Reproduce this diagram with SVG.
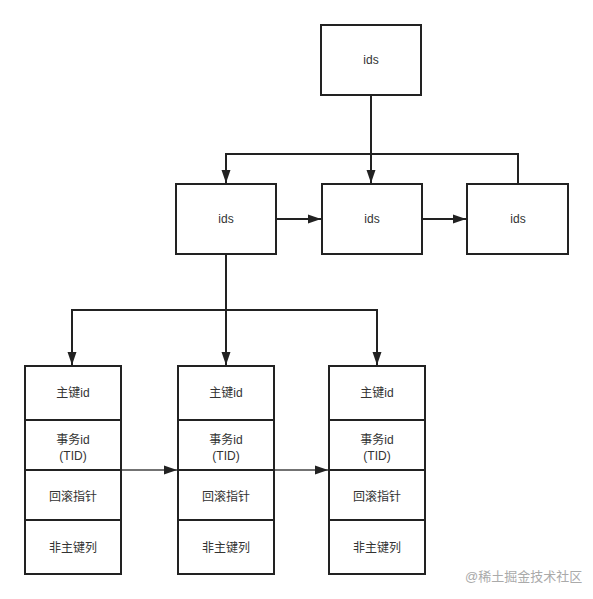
<svg xmlns="http://www.w3.org/2000/svg" width="593" height="599" viewBox="0 0 593 599">
<style>
.box{fill:#fff;stroke:#222;stroke-width:2}
.t{font-family:"Liberation Sans","Noto Sans CJK SC",sans-serif;font-size:12px;fill:#333;text-anchor:middle}
.c{fill:none;stroke:#222;stroke-width:2}
.c2{fill:none;stroke:#444;stroke-width:1.3}
.wm{font-family:"Liberation Sans","Noto Sans CJK SC",sans-serif;font-size:13px;fill:#aaa}
</style>
<defs>
<marker id="a" markerWidth="10" markerHeight="10" refX="9" refY="5" orient="auto" markerUnits="userSpaceOnUse">
<path d="M0,0.5 L10,5 L0,9.5 Z" fill="#222"/>
</marker>
<marker id="b" markerWidth="14" markerHeight="10" refX="13" refY="5" orient="auto" markerUnits="userSpaceOnUse">
<path d="M0,0.5 L13,5 L0,9.5 Z" fill="#222"/>
</marker>
</defs>
<rect width="593" height="599" fill="#fff"/>
<g id="connectors">
<path class="c" d="M371,95 V183" marker-end="url(#b)"/>
<path class="c" d="M518,184 V154 H226 V183" marker-end="url(#b)"/>
<path class="c" d="M276,219 H321" marker-end="url(#b)"/>
<path class="c" d="M422,219 H466" marker-end="url(#b)"/>
<path class="c" d="M226,254 V365" marker-end="url(#b)"/>
<path class="c" d="M226,310 H72 V365" marker-end="url(#b)"/>
<path class="c" d="M226,310 H377 V365" marker-end="url(#b)"/>
<path class="c2" d="M121,470 H177" marker-end="url(#b)"/>
<path class="c2" d="M274,470 H328" marker-end="url(#b)"/>
</g>
<g id="top">
<rect class="box" x="321" y="25" width="100" height="70"/>
<text class="t" x="371" y="64">ids</text>
</g>
<g id="ids1">
<rect class="box" x="176" y="184" width="100" height="70"/>
<text class="t" x="226" y="223">ids</text>
</g>
<g id="ids2">
<rect class="box" x="322" y="184" width="100" height="70"/>
<text class="t" x="372" y="223">ids</text>
</g>
<g id="ids3">
<rect class="box" x="467" y="184" width="101" height="70"/>
<text class="t" x="518" y="223">ids</text>
</g>
<g id="row1">
<rect class="box" x="25" y="366" width="96" height="208"/>
<line class="c" x1="25" y1="420" x2="121" y2="420"/>
<line class="c" x1="25" y1="470" x2="121" y2="470"/>
<line class="c" x1="25" y1="520" x2="121" y2="520"/>
<text class="t" x="73" y="397">主键id</text>
<text class="t" x="73" y="444">事务id</text>
<text class="t" x="73" y="460">(TID)</text>
<text class="t" x="73" y="501">回滚指针</text>
<text class="t" x="73" y="552">非主键列</text>
</g>
<g id="row2">
<rect class="box" x="178" y="366" width="96" height="208"/>
<line class="c" x1="178" y1="420" x2="274" y2="420"/>
<line class="c" x1="178" y1="470" x2="274" y2="470"/>
<line class="c" x1="178" y1="520" x2="274" y2="520"/>
<text class="t" x="226" y="397">主键id</text>
<text class="t" x="226" y="444">事务id</text>
<text class="t" x="226" y="460">(TID)</text>
<text class="t" x="226" y="501">回滚指针</text>
<text class="t" x="226" y="552">非主键列</text>
</g>
<g id="row3">
<rect class="box" x="329" y="366" width="96" height="208"/>
<line class="c" x1="329" y1="420" x2="425" y2="420"/>
<line class="c" x1="329" y1="470" x2="425" y2="470"/>
<line class="c" x1="329" y1="520" x2="425" y2="520"/>
<text class="t" x="377" y="397">主键id</text>
<text class="t" x="377" y="444">事务id</text>
<text class="t" x="377" y="460">(TID)</text>
<text class="t" x="377" y="501">回滚指针</text>
<text class="t" x="377" y="552">非主键列</text>
</g>
<text class="wm" x="465" y="581">@稀土掘金技术社区</text>
</svg>
